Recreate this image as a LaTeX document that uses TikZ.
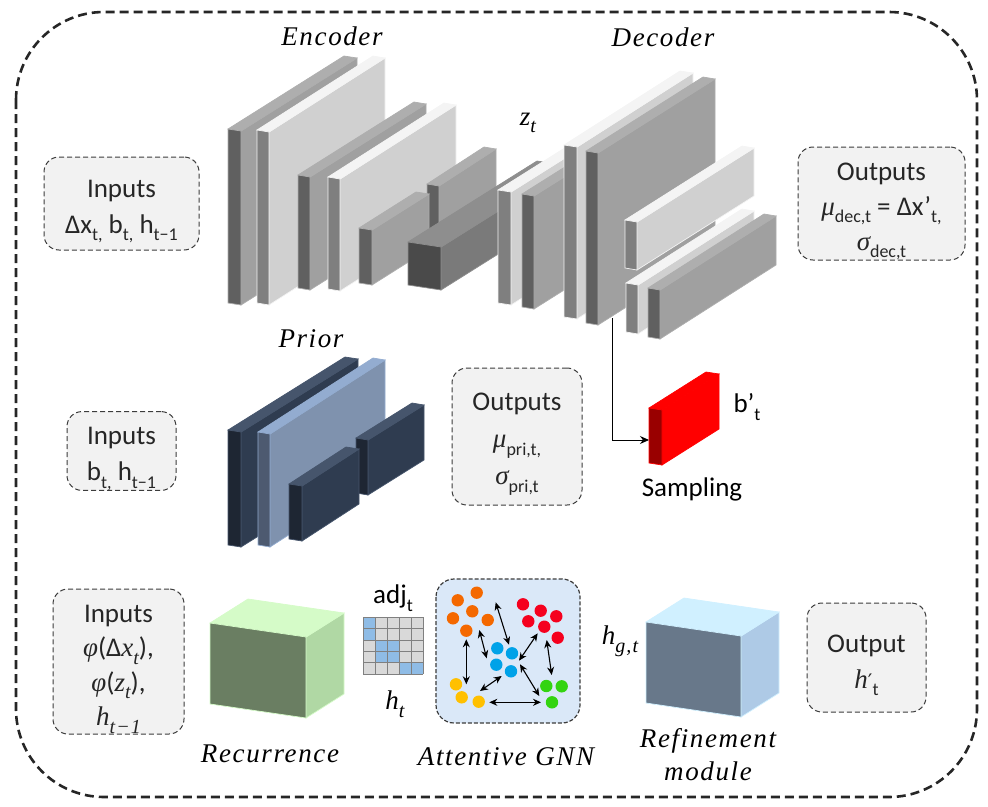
\documentclass[tikz,border=0pt]{standalone}
\usepackage{fontspec}
\setmainfont{Carlito}
\newfontfamily\LabelFamily[LetterSpace=6]{Liberation Serif}
\newfontfamily\PrimeFamily{DejaVu Sans}
\usetikzlibrary{arrows.meta, positioning}
\definecolor{DarkFront}{HTML}{606060}
\definecolor{DarkTop}{HTML}{AEAEAE}
\definecolor{DarkSide}{HTML}{A0A0A0}
\definecolor{PaleFront}{HTML}{7F7F7F}
\definecolor{PaleTop}{HTML}{F4F4F4}
\definecolor{PaleSide}{HTML}{D0D0D0}
\definecolor{BlockFront}{HTML}{4A4A4A}
\definecolor{BlockTop}{HTML}{8E8E8E}
\definecolor{BlockSide}{HTML}{7A7A7A}
\definecolor{NavyFront}{HTML}{1E2633}
\definecolor{NavyTop}{HTML}{46556C}
\definecolor{NavySide}{HTML}{2F3C50}
\definecolor{SteelFront}{HTML}{4D5A70}
\definecolor{SteelTop}{HTML}{93ACD0}
\definecolor{SteelSide}{HTML}{7F92AE}
\definecolor{RedFront}{HTML}{990000}
\definecolor{RedTop}{HTML}{FF0000}
\definecolor{RedSide}{HTML}{FF0000}
\definecolor{MossFront}{HTML}{6A7E62}
\definecolor{MossTop}{HTML}{D5FBC8}
\definecolor{MossSide}{HTML}{B0D8A4}
\definecolor{SkyFront}{HTML}{68788A}
\definecolor{SkyTop}{HTML}{D0F0FF}
\definecolor{SkySide}{HTML}{AECAE6}
\definecolor{PanelGrey}{HTML}{F2F2F2}
\definecolor{GnnBlue}{HTML}{DAE8F8}
\definecolor{CellBlue}{HTML}{8FBCE6}
\definecolor{CellGrey}{HTML}{D9D9D9}
\definecolor{InkGrey}{HTML}{262626}
\definecolor{DotOrange}{HTML}{F46800}
\definecolor{DotRed}{HTML}{F5001E}
\definecolor{DotBlue}{HTML}{00A2E8}
\definecolor{DotYellow}{HTML}{FFC000}
\definecolor{DotGreen}{HTML}{33D411}
\newcommand{\BodyFont}{\fontsize{27pt}{36pt}\selectfont}
\newcommand{\MathLabel}{\LabelFamily\itshape\fontsize{27pt}{33pt}\selectfont}
\newcommand{\Sym}[1]{{\LabelFamily\itshape\fontsize{27pt}{27pt}\selectfont #1}}
\newcommand{\Low}[1]{\raisebox{-0.28em}{\fontsize{18pt}{18pt}\selectfont #1}}
\newcommand{\LowMath}[1]{\raisebox{-0.28em}{\LabelFamily\itshape\fontsize{20pt}{20pt}\selectfont #1}}
\newcommand{\Lead}{\rule{0pt}{33pt}}
% tone, x, y, width, height, skew, depth x, depth y
\newcommand{\slab}[8]{
  \filldraw[draw=#1Top, line width=0.7pt, fill=#1Side] ({#2+#4},{#3+#6}) -- ({#2+#4},{#3+#6+#5}) -- ({#2+#4+#7},{#3+#6+#5+#8}) -- ({#2+#4+#7},{#3+#6+#8}) -- cycle;
  \filldraw[draw=#1Top, line width=0.7pt, fill=#1Top] (#2,#3) -- ({#2+#4},{#3+#6}) -- ({#2+#4+#7},{#3+#6+#8}) -- ({#2+#7},{#3+#8}) -- cycle;
  \filldraw[draw=#1Top, line width=0.7pt, fill=#1Front] (#2,#3) -- ({#2+#4},{#3+#6}) -- ({#2+#4},{#3+#6+#5}) -- (#2,{#3+#5}) -- cycle;
}
\tikzset{
  iobox/.style={draw=InkGrey!90, dash pattern=on 5pt off 3pt, line width=1pt, fill=PanelGrey, rounded corners=15pt, align=center, text=InkGrey, font=\BodyFont, inner sep=0pt},
  plainlabel/.style={text=black, font=\BodyFont, inner sep=0pt},
  mathlabel/.style={text=black, font=\MathLabel, inner sep=0pt, align=center},
  gnnarrow/.style={{Stealth[length=8pt,width=7pt]}-{Stealth[length=8pt,width=7pt]}, line width=1.1pt}
}
\begin{document}
\begin{tikzpicture}[x=1pt, y=-1pt]
  \useasboundingbox (0,0) rectangle (988,806);
  % outer frame
  \draw[InkGrey, line width=2.6pt, dash pattern=on 9pt off 5pt, rounded corners=88pt] (16,12) rectangle (977,797);
  % encoder
  \slab{Dark}{228}{129}{13}{174}{2}{116}{-73}
  \slab{Pale}{257}{130}{12}{173}{2}{116}{-74}
  \slab{Dark}{298}{175}{12}{113}{2}{116}{-73}
  \slab{Pale}{328}{177}{12}{112}{2}{116}{-74}
  \slab{Dark}{427}{184}{12}{55}{2}{57}{-37}
  \slab{Dark}{359}{228}{13}{55}{2}{57}{-36}
  % latent block
  \slab{Block}{408}{242}{33}{43}{5}{129}{-81}
  \slab{Pale}{498}{190}{13}{113}{2}{100}{-63}
  \slab{Dark}{522}{194}{12}{113}{2}{100}{-63}
  % decoder
  \slab{Pale}{564}{145}{13}{172}{2}{116}{-74}
  \slab{Dark}{586}{151}{12}{172}{2}{117}{-74}
  \slab{Pale}{625}{220}{12}{48}{2}{117}{-74}
  \slab{Pale}{626}{283}{12}{49}{2}{116}{-74}
  \slab{Dark}{648}{288}{12}{49}{2}{116}{-74}
  % prior
  \slab{Navy}{228}{430}{13}{115}{2}{117}{-73}
  \slab{Steel}{258}{432}{12}{113}{2}{115}{-74}
  \slab{Navy}{356}{438}{12}{55}{2}{56}{-35}
  \slab{Navy}{289}{484}{13}{55}{2}{57}{-37}
  % sampling
  \slab{Red}{649}{408}{13}{55}{2}{57}{-36}
  \coordinate (decoderout) at (612,318);
  \coordinate (samplein) at (649,440);
  \draw[-{Stealth[length=9pt,width=8pt]}, line width=0.9pt] (decoderout) |- (samplein);
  % recurrence and refinement
  \slab{Moss}{210}{623}{96}{81}{14}{38}{-24}
  \slab{Sky}{646}{622}{95}{81}{14}{38}{-24}
  % adjacency
  \fill[CellGrey] (363,617) rectangle (423,674);
  \foreach \col/\row in {0/0, 0/1, 1/2, 2/2, 1/3, 2/3, 3/4, 4/4}
    \fill[CellBlue] ({363+12*\col},{617+11.4*\row}) rectangle ({375+12*\col},{628.4+11.4*\row});
  \foreach \col in {0,...,5}
    \draw[gray, line width=0.5pt] ({363+12*\col},617) -- ({363+12*\col},674);
  \foreach \row in {0,...,5}
    \draw[gray, line width=0.5pt] (363,{617+11.4*\row}) -- (423,{617+11.4*\row});
  % gnn panel
  \filldraw[draw=InkGrey!90, dash pattern=on 4pt off 2pt, line width=1.2pt, fill=GnnBlue, rounded corners=18pt] (436,579) rectangle (580,723);
  \foreach \dotx/\doty in {457.7/600.3, 476.7/592.7, 472.3/611.3, 453/618.3, 487.7/620, 466.3/630.7}
    \fill[DotOrange] (\dotx,\doty) circle (6.2);
  \foreach \dotx/\doty in {523/604.3, 540.7/610.7, 556.3/616.3, 528.3/621.3, 544.3/626.7, 557.7/637.7}
    \fill[DotRed] (\dotx,\doty) circle (6.2);
  \foreach \dotx/\doty in {497.3/648.3, 512/653.3, 496.3/664.7, 511/671.3}
    \fill[DotBlue] (\dotx,\doty) circle (6.2);
  \foreach \dotx/\doty in {456/684.3, 461.7/697.3, 478.7/701.7}
    \fill[DotYellow] (\dotx,\doty) circle (6.2);
  \foreach \dotx/\doty in {546.3/686, 561.7/686.3, 552/702.3}
    \fill[DotGreen] (\dotx,\doty) circle (6.2);
  \coordinate (a1) at (495.7,602.3); \coordinate (a2) at (509,644.7);
  \coordinate (b1) at (479.3,630);   \coordinate (b2) at (486.7,658.3);
  \coordinate (c1) at (466.3,639.3); \coordinate (c2) at (466.3,684.3);
  \coordinate (d1) at (537.7,633.3); \coordinate (d2) at (519,660.7);
  \coordinate (e1) at (546.7,640);   \coordinate (e2) at (551.7,675);
  \coordinate (f1) at (520,664.3);   \coordinate (f2) at (539.3,696);
  \coordinate (g1) at (501.7,676);   \coordinate (g2) at (480,691);
  \coordinate (h1) at (489.3,702.3); \coordinate (h2) at (541,702.3);
  \foreach \pair in {a,b,c,d,e,f,g,h}
    \draw[gnnarrow] (\pair1) -- (\pair2);
  % io panels
  \node[iobox, minimum width=155pt, minimum height=93pt] (inputsvae) at (121.5,203.5)
    {\Lead Inputs\\Δx\Low{t,} b\Low{t,} h\Low{t−1}};
  \node[iobox, minimum width=109pt, minimum height=78pt] (inputsprior) at (121.5,451)
    {\Lead Inputs\\b\Low{t,} h\Low{t−1}};
  \node[iobox, minimum width=131pt, minimum height=145pt, font=\fontsize{27pt}{34.5pt}\selectfont] (inputsrnn) at (118.5,661.5)
    {\Lead Inputs\\\Sym{φ}(Δ\Sym{x}\LowMath{t}),\\\Sym{φ}(\Sym{z}\LowMath{t}),\\\Sym{h}\LowMath{t−1}};
  \node[iobox, minimum width=167pt, minimum height=113pt, font=\fontsize{27pt}{35pt}\selectfont] (outputsdec) at (881.5,203.5)
    {\Lead Outputs\\\Sym{μ}\Low{dec,t} = Δx’\Low{t,}\\\Sym{σ}\Low{dec,t}};
  \node[iobox, minimum width=130pt, minimum height=137pt, font=\fontsize{27pt}{37pt}\selectfont] (outputspri) at (517,436.5)
    {\Lead Outputs\\\Sym{μ}\Low{pri,t,}\\\Sym{σ}\Low{pri,t}};
  \node[iobox, minimum width=119pt, minimum height=109pt] (outputrnn) at (866.5,657.5)
    {\Lead Output\\\Sym{h}{\PrimeFamily\fontsize{20pt}{20pt}\selectfont ′}\Low{t}};
  % labels
  \node[mathlabel] (encoderlabel) at (332,36) {Encoder};
  \node[mathlabel] (decoderlabel) at (663,37) {Decoder};
  \node[mathlabel] (latentlabel) at (528,123) {z\LowMath{t}};
  \node[mathlabel] (priorlabel) at (311,339) {Prior};
  \node[plainlabel] (bprimelabel) at (747,407) {b’\Low{t}};
  \node[plainlabel] (samplinglabel) at (692,489) {Sampling};
  \node[plainlabel] (adjlabel) at (393,598) {adj\Low{t}};
  \node[mathlabel] (hiddenlabel) at (395,704) {h\LowMath{t}};
  \node[mathlabel] (gnnoutlabel) at (620,641) {h\LowMath{g,t}};
  \node[mathlabel] (recurrencelabel) at (270,754) {Recurrence};
  \node[mathlabel] (gnnlabel) at (506,757) {Attentive GNN};
  \node[mathlabel] (refinementlabel) at (708,755) {Refinement\\module};
\end{tikzpicture}
\end{document}
